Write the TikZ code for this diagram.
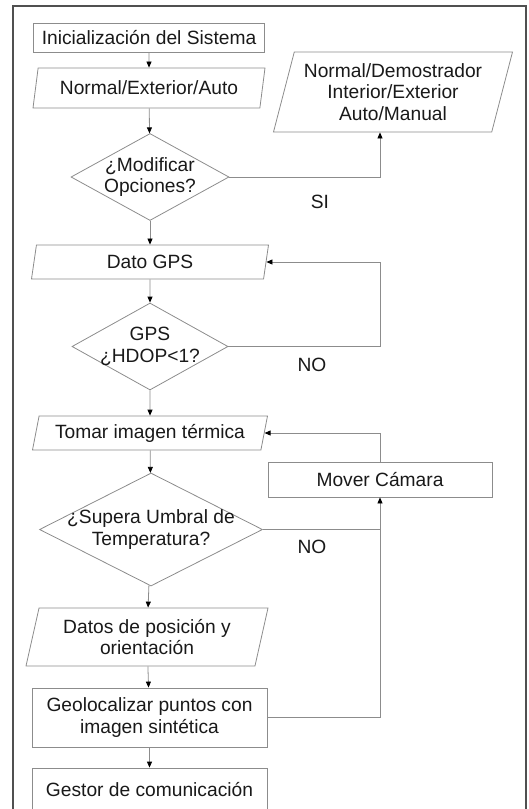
\documentclass[tikz,border=0pt]{standalone}
\usepackage{fontspec}
\setmainfont{Liberation Sans}
\usepackage{xcolor}
\usepackage{tikz}
\usetikzlibrary{positioning,shapes.geometric,arrows.meta}
\definecolor{linegray}{RGB}{140,140,140}
\definecolor{framegray}{RGB}{80,80,80}
\definecolor{textgray}{RGB}{25,25,25}

\begin{document}
\begin{tikzpicture}[x=1pt,y=-1pt,
  font=\fontsize{19.2}{21.5}\selectfont, text=textgray,
  proc/.style={draw=linegray, line width=0.8pt, rectangle, inner sep=0pt, align=center},
  io/.style={draw=linegray, line width=0.8pt, trapezium, trapezium left angle=70,
    trapezium right angle=110, trapezium stretches body, inner sep=0pt, align=center},
  decision/.style={draw=linegray, line width=0.8pt, diamond, aspect=1.8, inner sep=-8pt, align=center},
  flow/.style={draw=linegray, line width=0.8pt, -{Triangle[length=6pt,width=5pt,color=black]}},
  line/.style={draw=linegray, line width=0.8pt}]
\useasboundingbox (0,0) rectangle (529,809);
\draw[framegray, line width=1.2pt] (13,820) -- (13,6) -- (526,6) -- (526,820);

\node[proc, minimum width=231, minimum height=29] (init) at (149,37.5) {Inicialización del Sistema};
\node[io, minimum width=232, minimum height=40] (modo) at (149,88) {Normal/Exterior/Auto};
\node[decision, minimum width=158, minimum height=87] (modificar) at (150,177) {¿Modificar\\Opciones?};
\node[io, minimum width=239, minimum height=80] (opciones) at (393,92) {Normal/Demostrador\\Interior/Exterior\\Auto/Manual};
\node[io, minimum width=237, minimum height=34] (gps) at (150,262) {Dato GPS};
\node[decision, minimum width=156, minimum height=87] (hdop) at (150,346.5) {GPS\\¿HDOP<1?};
\node[io, minimum width=235, minimum height=34] (termica) at (150,433) {Tomar imagen térmica};
\node[proc, minimum width=224, minimum height=35] (mover) at (380,479.5) {Mover Cámara};
\node[decision, minimum width=223, minimum height=113] (umbral) at (151,529.5) {¿Supera Umbral de\\Temperatura?};
\node[io, minimum width=242, minimum height=58] (posicion) at (147,637) {Datos de posición y\\orientación};
\node[proc, minimum width=235, minimum height=59] (geo) at (149.5,717.5) {Geolocalizar puntos con\\imagen sintética};
\node[proc, minimum width=235, minimum height=44] (gestor) at (149.5,790) {Gestor de comunicación};

\node (si) at (320,202) {SI};
\node (no1) at (312,365) {NO};
\node (no2) at (312,547) {NO};

\draw[flow] (init) -- (modo);
\draw[flow] (modo) -- (modificar);
\draw[flow] (modificar.east) -| (opciones.south -| mover.north);
\draw[flow] (modificar) -- (gps);
\draw[flow] (gps) -- (hdop);
\draw[flow] (hdop.east) -| (mover.north |- gps.east) -- (gps.east);
\draw[flow] (hdop) -- (termica);
\draw[flow] (mover.north) |- (termica.east);
\draw[flow] (termica) -- (umbral);
\draw[line] (umbral.east) -- (umbral.east -| mover.south);
\draw[flow] (geo.east) -| (mover.south);
\draw[flow] (umbral) -- (posicion);
\draw[flow] (posicion) -- (geo);
\draw[flow] (geo) -- (gestor);
\end{tikzpicture}
\end{document}
